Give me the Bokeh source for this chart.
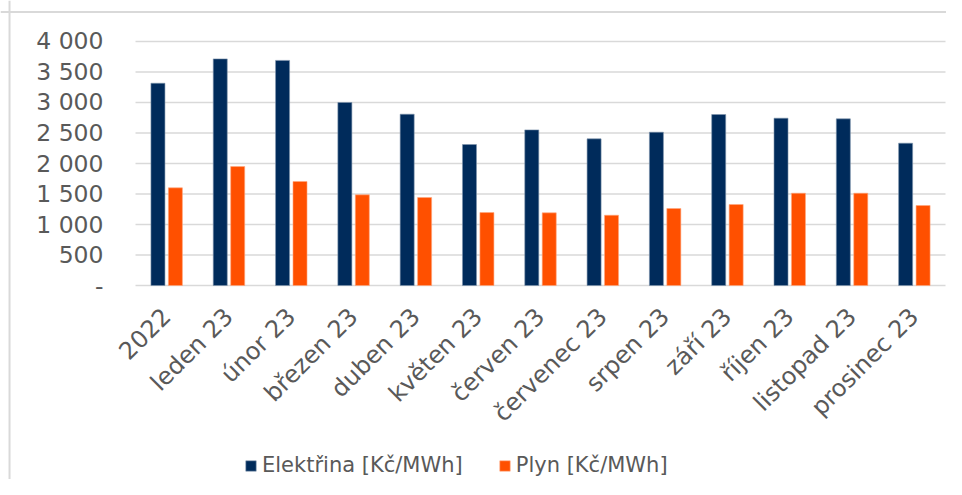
import math
from bokeh.plotting import figure
from bokeh.models import (ColumnDataSource, FixedTicker, Legend, LegendItem, LinearAxis,
                          Range1d, Span)
from bokeh.embed import file_html
from bokeh.resources import INLINE

categories = ["2022", "leden 23", "únor 23", "březen 23", "duben 23", "květen 23",
              "červen 23", "červenec 23", "srpen 23", "září 23", "říjen 23",
              "listopad 23", "prosinec 23"]
elektrina = [3316, 3715, 3690, 3000, 2808, 2311, 2551, 2404, 2513, 2803, 2743, 2732, 2333]
plyn = [1601, 1950, 1705, 1486, 1442, 1196, 1191, 1152, 1262, 1328, 1513, 1513, 1311]
y_ticks = [0, 500, 1000, 1500, 2000, 2500, 3000, 3500, 4000]
y_tick_labels = ["-", "500", "1 000", "1 500", "2 000", "2 500", "3 000", "3 500", "4 000"]
series_names = ["Elektřina [Kč/MWh]", "Plyn [Kč/MWh]"]

FONT = "DejaVu Sans"
GRAY = "#595959"
GRID = "#d9d9d9"
NAVY = "#002B5B"
ORANGE = "#FF5000"

n = len(categories)
centers = [i + 0.5 for i in range(n)]
src = ColumnDataSource(dict(x_el=[c - 0.14 for c in centers],
                            x_pl=[c + 0.14 for c in centers],
                            el=elektrina, pl=plyn))
grid_src = ColumnDataSource(dict(y=y_ticks, x0=[0] * len(y_ticks), x1=[n] * len(y_ticks)))

# the frame covers the whole canvas; the chart area is 0..n (x) and 0..4000 (y)
p = figure(x_range=Range1d(-2.167, n + 0.016), y_range=Range1d(-3180, 4672),
           width=946, height=479, output_backend="svg", toolbar_location=None,
           x_axis_type=None, y_axis_type=None,
           min_border_left=0, min_border_right=0, min_border_top=0, min_border_bottom=0)
p.outline_line_color = None
p.xgrid.visible = False
p.ygrid.visible = False

# chart border (top and left edges visible)
p.add_layout(Span(location=-2.022, dimension="height", line_color=GRID, line_width=2))
p.add_layout(Span(location=4484, dimension="width", line_color=GRID, line_width=2))

# horizontal gridlines
p.segment(x0="x0", x1="x1", y0="y", y1="y", source=grid_src, line_color=GRID, line_width=1.6)

r1 = p.vbar(x="x_el", top="el", width=0.225, source=src,
            fill_color=NAVY, line_color="#7f95ad", line_width=0.6)
r2 = p.vbar(x="x_pl", top="pl", width=0.225, source=src,
            fill_color=ORANGE, line_color="#ffa880", line_width=0.6)

yaxis = LinearAxis(fixed_location=0, bounds=(0, 4000), ticker=FixedTicker(ticks=y_ticks),
                   major_label_overrides={t: l for t, l in zip(y_ticks, y_tick_labels)},
                   axis_line_color=None, major_tick_line_color=None, minor_tick_line_color=None,
                   major_tick_in=0, major_tick_out=0, minor_tick_in=0, minor_tick_out=0,
                   major_label_text_font=FONT, major_label_text_font_size="23.5px",
                   major_label_text_color=GRAY, major_label_standoff=32)
p.add_layout(yaxis, "left")

xaxis = LinearAxis(fixed_location=0, bounds=(0, n), ticker=FixedTicker(ticks=centers),
                   major_label_overrides={c: l for c, l in zip(centers, categories)},
                   axis_line_color=None, major_tick_line_color=None, minor_tick_line_color=None,
                   major_tick_in=0, major_tick_out=0, minor_tick_in=0, minor_tick_out=0,
                   major_label_orientation=math.pi / 4,
                   major_label_text_font=FONT, major_label_text_font_size="24px",
                   major_label_text_color=GRAY, major_label_standoff=27)
p.add_layout(xaxis, "below")

legend = Legend(items=[LegendItem(label=series_names[0], renderers=[r1]),
                       LegendItem(label=series_names[1], renderers=[r2])],
                orientation="horizontal", location=(244, 2),
                label_text_font=FONT, label_text_font_size="21px", label_text_color=GRAY,
                glyph_width=13, glyph_height=13, label_standoff=5, spacing=35,
                padding=0, margin=0, border_line_color=None, background_fill_alpha=0)
p.add_layout(legend, "center")

open("out.html", "w").write(file_html(p, INLINE))
